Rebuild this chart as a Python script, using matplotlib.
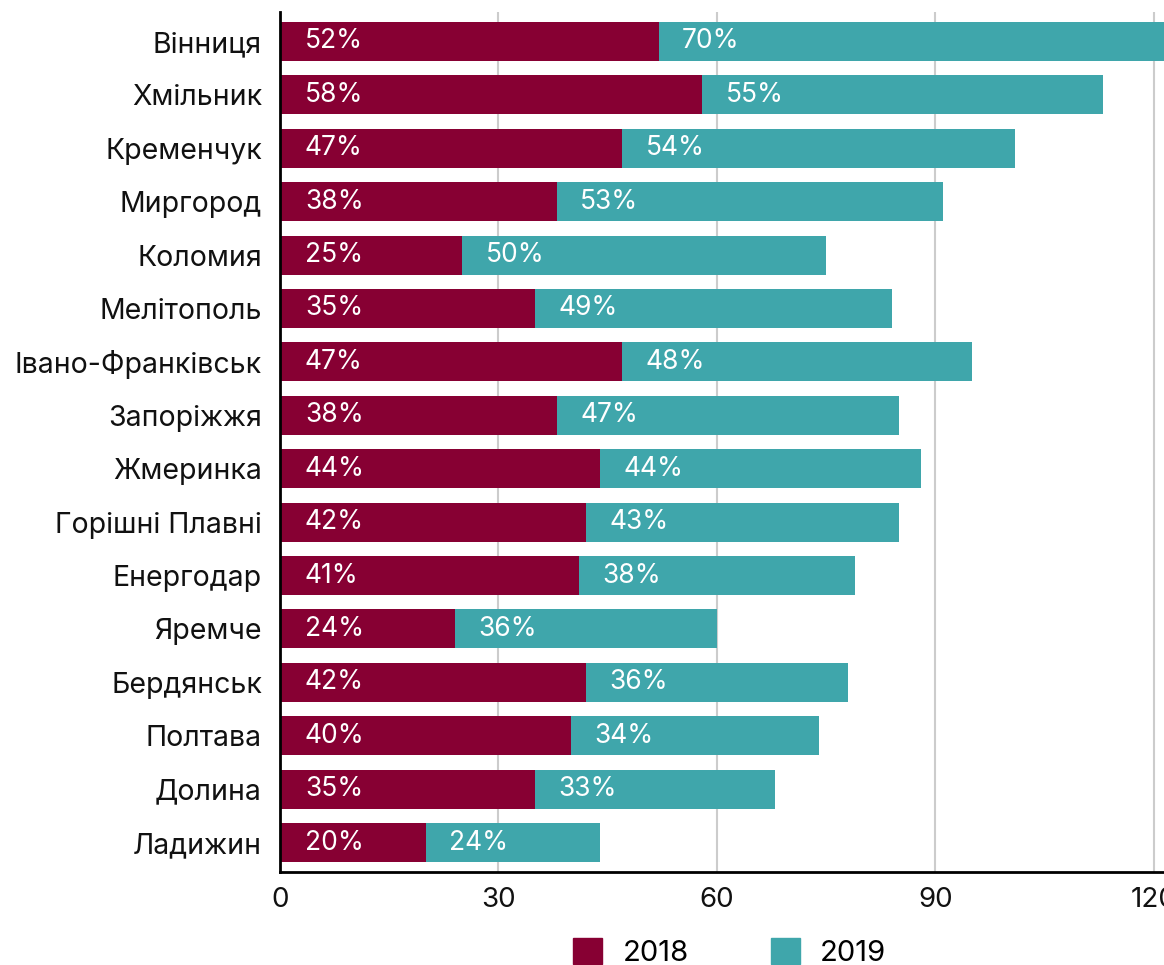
import matplotlib
matplotlib.use('Agg')
import matplotlib.pyplot as plt
from matplotlib.patches import Patch

cities = ['Вінниця', 'Хмільник', 'Кременчук', 'Миргород', 'Коломия', 'Мелітополь',
          'Івано-Франківськ', 'Запоріжжя', 'Жмеринка', 'Горішні Плавні', 'Енергодар',
          'Яремче', 'Бердянськ', 'Полтава', 'Долина', 'Ладижин']
v2018 = [52, 58, 47, 38, 25, 35, 47, 38, 44, 42, 41, 24, 42, 40, 35, 20]
v2019 = [70, 55, 54, 53, 50, 49, 48, 47, 44, 43, 38, 36, 36, 34, 33, 24]
xticks = [0, 30, 60, 90, 120]

c18 = '#870033'
c19 = '#3FA6AB'

plt.rcParams['font.family'] = ['Inter', 'DejaVu Sans']

fig = plt.figure(figsize=(11.64, 9.65), dpi=100)
ax = fig.add_axes([0.2405, 0.0964, 0.7595, 0.8912])

y = list(range(len(cities)))
ax.barh(y, v2018, height=0.73, color=c18, zorder=3)
ax.barh(y, v2019, left=v2018, height=0.73, color=c19, zorder=3)

for i in y:
    ax.annotate(f'{v2018[i]}%', (0, i), xytext=(18, 0), textcoords='offset points',
                va='center', ha='left', color='white', fontsize=19, zorder=4)
    ax.annotate(f'{v2019[i]}%', (v2018[i], i), xytext=(17, 0), textcoords='offset points',
                va='center', ha='left', color='white', fontsize=19, zorder=4)

ax.set_xlim(0, 121.4)
ax.set_ylim(15.55, -0.55)
ax.set_yticks(y)
ax.set_yticklabels(cities, fontsize=20.5)
ax.set_xticks(xticks)
ax.set_xticklabels([str(t) for t in xticks], fontsize=20)
ax.tick_params(axis='both', length=0, colors='#111111')
ax.tick_params(axis='y', pad=13)
ax.tick_params(axis='x', pad=11)

ax.grid(axis='x', color='#cccccc', linewidth=1.5, zorder=0)
for s in ['top', 'right']:
    ax.spines[s].set_visible(False)
ax.spines['left'].set_linewidth(2)
ax.spines['bottom'].set_linewidth(2)
ax.spines['left'].set_zorder(5)

handles = [Patch(color=c18, label='2018'), Patch(color=c19, label='2019')]
fig.legend(handles=handles, loc='center', bbox_to_anchor=(0.627, 0.013), ncol=2,
           frameon=False, fontsize=21, handlelength=1.0, handleheight=1.0,
           columnspacing=2.8, handletextpad=0.7)

fig.savefig('out.png', dpi=100)
